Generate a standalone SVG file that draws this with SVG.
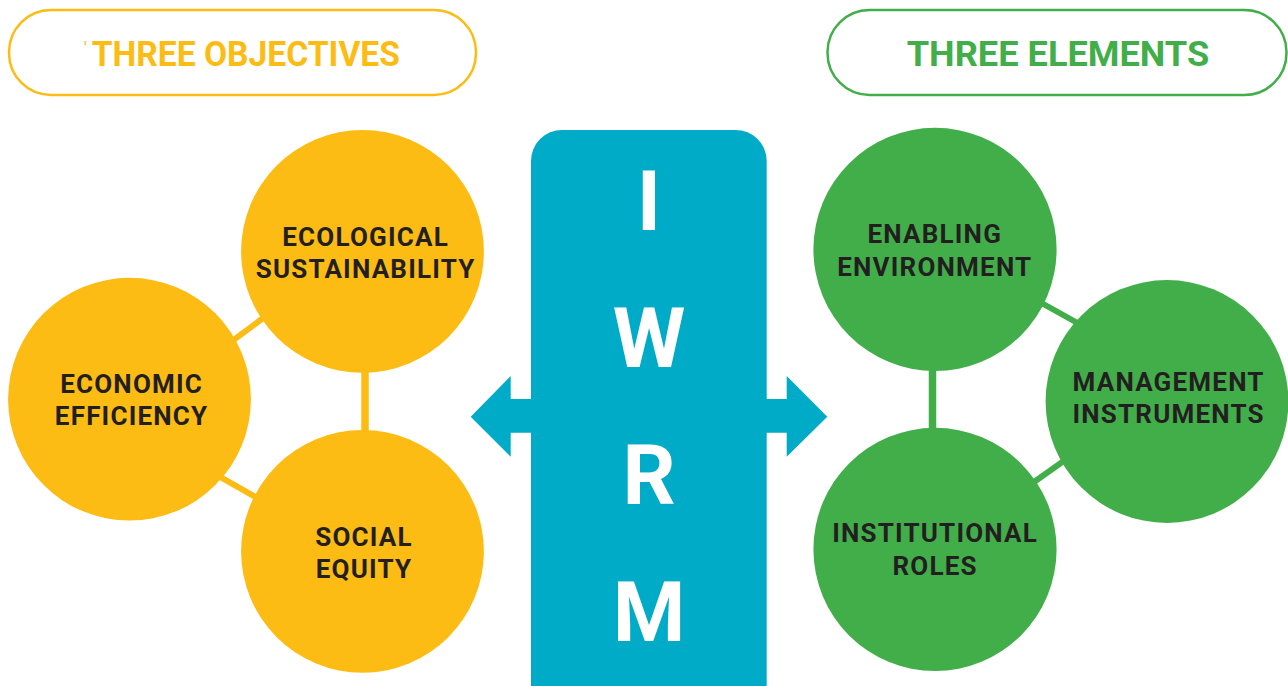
<svg xmlns="http://www.w3.org/2000/svg" width="1288" height="686" viewBox="0 0 1288 686">
  <style>
    .lbl { font-family: Roboto, "Liberation Sans", Arial, sans-serif; font-weight: 700; font-size: 26px; fill: #231f20; text-anchor: middle; letter-spacing: 1.2px; }
    .title { font-family: Roboto, "Liberation Sans", Arial, sans-serif; font-weight: 700; font-size: 35px; }
    .big { font-family: Roboto, "Liberation Sans", Arial, sans-serif; font-weight: 700; font-size: 83px; fill: #ffffff; text-anchor: middle; }
    .yel { fill: #fcbc14; }
    .grn { fill: #42ae4a; }
    .yline { stroke: #fcbc14; stroke-width: 6; }
    .gline { stroke: #42ae4a; stroke-width: 6; }
    .vline { stroke-width: 7.5; }
  </style>
  <rect width="1288" height="686" fill="#ffffff"/>

  <g id="title-objectives">
    <rect x="9" y="10" width="467" height="85" rx="42" fill="#ffffff" stroke="#fcbc14" stroke-width="2.5"/>
    <text x="85.3" y="55" font-family="Roboto, 'Liberation Sans', Arial, sans-serif" font-size="18" fill="#fcbc14" text-anchor="middle">'</text>
    <text class="title yel" x="91.7" y="66" textLength="308.3" lengthAdjust="spacingAndGlyphs">THREE OBJECTIVES</text>
  </g>

  <g id="title-elements">
    <rect x="827.5" y="10" width="459" height="85" rx="42" fill="#ffffff" stroke="#42ae4a" stroke-width="2.5"/>
    <text class="title grn" x="906.7" y="66" textLength="302.6" lengthAdjust="spacingAndGlyphs">THREE ELEMENTS</text>
  </g>

  <g id="connectors">
    <line class="yline" x1="220" y1="350" x2="280" y2="305.6"/>
    <line class="yline" x1="200" y1="465.5" x2="280" y2="510.8"/>
    <line class="yline vline" x1="365" y1="360" x2="365" y2="440"/>
    <line class="gline" x1="1020" y1="291" x2="1100" y2="335.5"/>
    <line class="gline" x1="1010" y1="499" x2="1090" y2="442.4"/>
    <line class="gline vline" x1="932.5" y1="360" x2="932.5" y2="440"/>
    <path id="arrow-left" d="M531 399 L510.7 399 L510.7 376 L470.7 416.7 L510.7 456.7 L510.7 432.7 L531 432.7 Z" fill="#00abc7"/>
    <path id="arrow-right" d="M766 399 L786.7 399 L786.7 376 L827.3 416.7 L786.7 456.7 L786.7 432.7 L766 432.7 Z" fill="#00abc7"/>
  </g>

  <g id="iwrm">
    <rect x="531" y="130" width="235.7" height="590" rx="31" fill="#00abc7"/>
    <text class="big" x="649" y="230">I</text>
    <text class="big" x="649" y="366.7">W</text>
    <text class="big" x="649" y="504">R</text>
    <text class="big" x="649" y="641">M</text>
  </g>

  <g id="ecological-sustainability">
    <circle cx="362.5" cy="251.4" r="121.4" class="yel"/>
    <text class="lbl" x="365.6" y="245.6">ECOLOGICAL</text>
    <text class="lbl" x="365.6" y="277.8">SUSTAINABILITY</text>
  </g>

  <g id="economic-efficiency">
    <circle cx="129.5" cy="399.2" r="121.4" class="yel"/>
    <text class="lbl" x="131.6" y="392.6">ECONOMIC</text>
    <text class="lbl" x="131.6" y="425">EFFICIENCY</text>
  </g>

  <g id="social-equity">
    <circle cx="362.5" cy="551.4" r="121.4" class="yel"/>
    <text class="lbl" x="364" y="546">SOCIAL</text>
    <text class="lbl" x="364" y="577.8">EQUITY</text>
  </g>

  <g id="enabling-environment">
    <circle cx="935" cy="249.4" r="121.6" class="grn"/>
    <text class="lbl" x="934.8" y="242.7">ENABLING</text>
    <text class="lbl" x="934.8" y="276">ENVIRONMENT</text>
  </g>

  <g id="management-instruments">
    <circle cx="1167" cy="401.5" r="121.4" class="grn"/>
    <text class="lbl" x="1168.6" y="390.8">MANAGEMENT</text>
    <text class="lbl" x="1168.6" y="422.5">INSTRUMENTS</text>
  </g>

  <g id="institutional-roles">
    <circle cx="935" cy="549.4" r="121.6" class="grn"/>
    <text class="lbl" x="935.1" y="542.4">INSTITUTIONAL</text>
    <text class="lbl" x="935.1" y="574.9">ROLES</text>
  </g>
</svg>
